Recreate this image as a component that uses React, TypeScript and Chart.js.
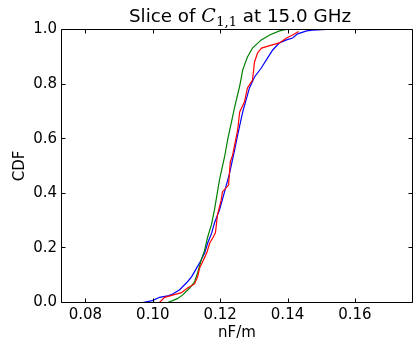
import React, { useEffect, useRef } from 'react';
import { Chart, registerables } from 'chart.js';

Chart.register(...registerables);

const TITLE_PREFIX = 'Slice of ';
const TITLE_SYMBOL = 'C';
const TITLE_SUB = '1,1';
const TITLE_SUFFIX = ' at 15.0 GHz';
const X_LABEL = 'nF/m';
const Y_LABEL = 'CDF';

const X_MIN = 0.0729;
const X_MAX = 0.1771;
const X_TICKS = [0.08, 0.1, 0.12, 0.14, 0.16];
const Y_TICKS = [0, 0.2, 0.4, 0.6, 0.8, 1.0];

const blueX = [0.097, 0.0999, 0.102, 0.1044, 0.1059, 0.1079, 0.1103, 0.1115, 0.1124, 0.1139, 0.1154, 0.1163, 0.1175, 0.1183, 0.1198, 0.1213, 0.1228, 0.1243, 0.1252, 0.1267, 0.1287, 0.1302, 0.1322, 0.1341, 0.1356, 0.1376, 0.1397, 0.1415, 0.143, 0.1457, 0.1474, 0.1516];
const blueY = [0, 0.007, 0.019, 0.024, 0.031, 0.046, 0.076, 0.094, 0.113, 0.145, 0.181, 0.218, 0.255, 0.291, 0.339, 0.405, 0.474, 0.559, 0.614, 0.698, 0.786, 0.826, 0.859, 0.896, 0.925, 0.951, 0.962, 0.969, 0.984, 0.995, 0.998, 1.0];

const redX = [0.102, 0.1035, 0.1059, 0.1085, 0.1103, 0.1124, 0.1133, 0.1139, 0.1148, 0.116, 0.1169, 0.1178, 0.1186, 0.1192, 0.1203, 0.1207, 0.1225, 0.123, 0.1237, 0.1252, 0.1258, 0.1272, 0.1281, 0.1296, 0.1302, 0.1311, 0.1323, 0.1347, 0.1376, 0.1397, 0.1415, 0.1433];
const redY = [0, 0.019, 0.027, 0.036, 0.053, 0.068, 0.094, 0.126, 0.149, 0.181, 0.218, 0.236, 0.255, 0.321, 0.375, 0.406, 0.43, 0.515, 0.54, 0.632, 0.698, 0.734, 0.786, 0.815, 0.881, 0.914, 0.932, 0.941, 0.951, 0.969, 0.98, 0.993];

const greenX = [0.1044, 0.1059, 0.1074, 0.1088, 0.1109, 0.1124, 0.1133, 0.1144, 0.1154, 0.1163, 0.1174, 0.1183, 0.1198, 0.1213, 0.1222, 0.1233, 0.1243, 0.1258, 0.1267, 0.1281, 0.1296, 0.1322, 0.1347, 0.1376, 0.1397];
const greenY = [0, 0.007, 0.015, 0.027, 0.052, 0.076, 0.108, 0.156, 0.192, 0.24, 0.284, 0.339, 0.449, 0.533, 0.595, 0.658, 0.716, 0.793, 0.852, 0.899, 0.932, 0.962, 0.98, 0.995, 1.0];

const toPoints = (xs: number[], ys: number[]) => xs.map((x, i) => ({ x, y: ys[i] }));

const FONT_FAMILY = '"DejaVu Sans", sans-serif';

const framePlugin = {
  id: 'mplFrame',
  afterDraw(chart: any) {
    const ctx = chart.ctx as CanvasRenderingContext2D;
    const a = chart.chartArea;
    const xs = chart.scales.x;
    const ys = chart.scales.y;
    const tl = 4;
    ctx.save();
    ctx.strokeStyle = '#000';
    ctx.lineWidth = 1;
    ctx.beginPath();
    ctx.rect(a.left, a.top, a.right - a.left, a.bottom - a.top);
    ctx.stroke();
    ctx.beginPath();
    X_TICKS.forEach((v) => {
      const p = Math.round(xs.getPixelForValue(v)) + 0.5;
      ctx.moveTo(p, a.bottom);
      ctx.lineTo(p, a.bottom - tl);
      ctx.moveTo(p, a.top);
      ctx.lineTo(p, a.top + tl);
    });
    Y_TICKS.forEach((v) => {
      const p = Math.round(ys.getPixelForValue(v) - 0.5) + 0.5;
      ctx.moveTo(a.left, p);
      ctx.lineTo(a.left + tl, p);
      ctx.moveTo(a.right, p);
      ctx.lineTo(a.right - tl, p);
    });
    ctx.stroke();

    // title with math-style symbol
    const mainFont = '18.3px "DejaVu Sans"';
    const symFont = 'italic 19px "DejaVu Serif"';
    const subFont = '13px "DejaVu Serif"';
    ctx.font = mainFont;
    const w1 = ctx.measureText(TITLE_PREFIX).width;
    const w4 = ctx.measureText(TITLE_SUFFIX).width;
    ctx.font = symFont;
    const w2 = ctx.measureText(TITLE_SYMBOL).width + 0.5;
    ctx.font = subFont;
    const w3 = ctx.measureText(TITLE_SUB).width;
    const total = w1 + w2 + w3 + w4;
    let x = 240 - total / 2;
    const base = 22;
    ctx.fillStyle = '#000';
    ctx.textAlign = 'left';
    ctx.textBaseline = 'alphabetic';
    ctx.font = mainFont;
    ctx.fillText(TITLE_PREFIX, x, base);
    x += w1;
    ctx.font = symFont;
    ctx.fillText(TITLE_SYMBOL, x, base);
    x += w2;
    ctx.font = subFont;
    ctx.fillText(TITLE_SUB, x, base + 4);
    x += w3;
    ctx.font = mainFont;
    ctx.fillText(TITLE_SUFFIX, x, base);
    ctx.restore();
  },
};

export default function App() {
  const canvasRef = useRef<HTMLCanvasElement | null>(null);

  useEffect(() => {
    const canvas = canvasRef.current;
    if (!canvas) return;
    const chart = new Chart(canvas, {
      type: 'line',
      data: {
        datasets: [
          { label: 'r', data: toPoints(redX, redY), borderColor: '#ff0000', borderWidth: 1.2, pointRadius: 0, tension: 0, fill: false },
          { label: 'g', data: toPoints(greenX, greenY), borderColor: '#008000', borderWidth: 1.2, pointRadius: 0, tension: 0, fill: false },
          { label: 'b', data: toPoints(blueX, blueY), borderColor: '#0000ff', borderWidth: 1.2, pointRadius: 0, tension: 0, fill: false },
        ],
      },
      options: {
        animation: false,
        responsive: true,
        maintainAspectRatio: false,
        events: [],
        layout: { padding: { left: 0, right: 1.5, top: 29.5, bottom: 0 } },
        plugins: { legend: { display: false }, tooltip: { enabled: false }, title: { display: false } },
        scales: {
          x: {
            type: 'linear',
            min: X_MIN,
            max: X_MAX,
            grid: { display: false, drawTicks: false },
            border: { display: false },
            afterBuildTicks: (scale: any) => {
              scale.ticks = X_TICKS.map((v) => ({ value: v }));
            },
            afterFit: (scale: any) => {
              scale.height = 38.5;
            },
            ticks: {
              color: '#000',
              padding: 4,
              font: { family: FONT_FAMILY, size: 15 },
              callback: (v: any) => Number(v).toFixed(2),
            },
            title: {
              display: true,
              text: X_LABEL,
              color: '#000',
              font: { family: FONT_FAMILY, size: 15, lineHeight: 1.0 },
              padding: { top: 0, bottom: 0 },
            },
          },
          y: {
            type: 'linear',
            min: 0,
            max: 1,
            grid: { display: false, drawTicks: false },
            border: { display: false },
            afterBuildTicks: (scale: any) => {
              scale.ticks = Y_TICKS.map((v) => ({ value: v }));
            },
            afterFit: (scale: any) => {
              scale.width = 61.5;
            },
            ticks: {
              color: '#000',
              padding: 4.5,
              font: { family: FONT_FAMILY, size: 15 },
              callback: (v: any) => Number(v).toFixed(1),
            },
            title: {
              display: true,
              text: Y_LABEL,
              color: '#000',
              font: { family: FONT_FAMILY, size: 15 },
              padding: { top: 11, bottom: 0 },
            },
          },
        },
      },
      plugins: [framePlugin],
    });
    return () => chart.destroy();
  }, []);

  return (
    <div style={{ position: 'absolute', left: 0, top: 0, width: 414, height: 341, background: '#fff' }}>
      <canvas ref={canvasRef} />
    </div>
  );
}
